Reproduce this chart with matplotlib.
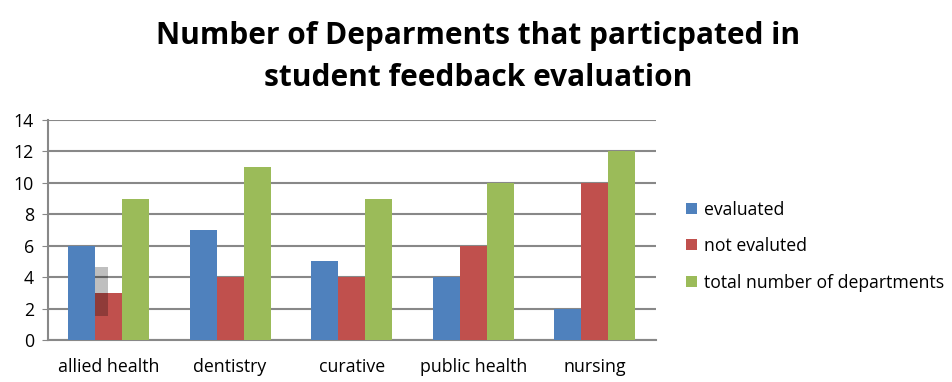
import numpy as np
import matplotlib.pyplot as plt
from matplotlib.patches import Rectangle

plt.rcParams['font.family'] = ['Open Sans', 'DejaVu Sans']

categories = ['allied health', 'dentistry', 'curative', 'public health', 'nursing']
evaluated = [6, 7, 5, 4, 2]
not_evaluated = [3, 4, 4, 6, 10]
total = [9, 11, 9, 10, 12]
series_names = ['evaluated', 'not evaluted', 'total number of departments']
colors = ['#4F81BD', '#C0504D', '#9BBB59']

fig = plt.figure(figsize=(9.53, 3.82), dpi=100)
ax = fig.add_axes([0.050, 0.110, 0.638, 0.576])

x = np.arange(len(categories))
w = 0.222
for i, (vals, name, c) in enumerate(zip([evaluated, not_evaluated, total], series_names, colors)):
    ax.bar(x + (i - 1) * w, vals, w, color=c, label=name, zorder=3)

# stray grey box in the original image
ax.add_patch(Rectangle((-0.113, 1.53), 0.106, 3.12, color='black', alpha=0.25, lw=0, zorder=4))

ax.set_xlim(-0.5, len(categories) - 0.5)
ax.set_ylim(0, 14)
ax.set_yticks(range(0, 15, 2))
ax.set_xticks(x)
ax.set_xticklabels(categories)
ax.tick_params(axis='x', length=0, pad=13, labelsize=12.8)
ax.tick_params(axis='y', length=4, color='#888888', pad=6, labelsize=12.8)
ax.yaxis.grid(True, color='#888888', lw=1.5, zorder=0)
for s in ['top', 'right']:
    ax.spines[s].set_visible(False)
for s in ['left', 'bottom']:
    ax.spines[s].set_color('#888888')
    ax.spines[s].set_linewidth(1.5)

fig.text(0.502, 0.905, 'Number of Deparments that particpated in', ha='center', va='center',
         fontsize=21.5, fontweight='bold')
fig.text(0.502, 0.795, 'student feedback evaluation', ha='center', va='center',
         fontsize=21.5, fontweight='bold')

fig.legend(loc='upper left', bbox_to_anchor=(0.720, 0.475), frameon=False, fontsize=12.7,
           handlelength=0.6, handleheight=0.6, handletextpad=0.4, labelspacing=1.05,
           borderaxespad=0, borderpad=0)

fig.savefig('out.png', dpi=100)
